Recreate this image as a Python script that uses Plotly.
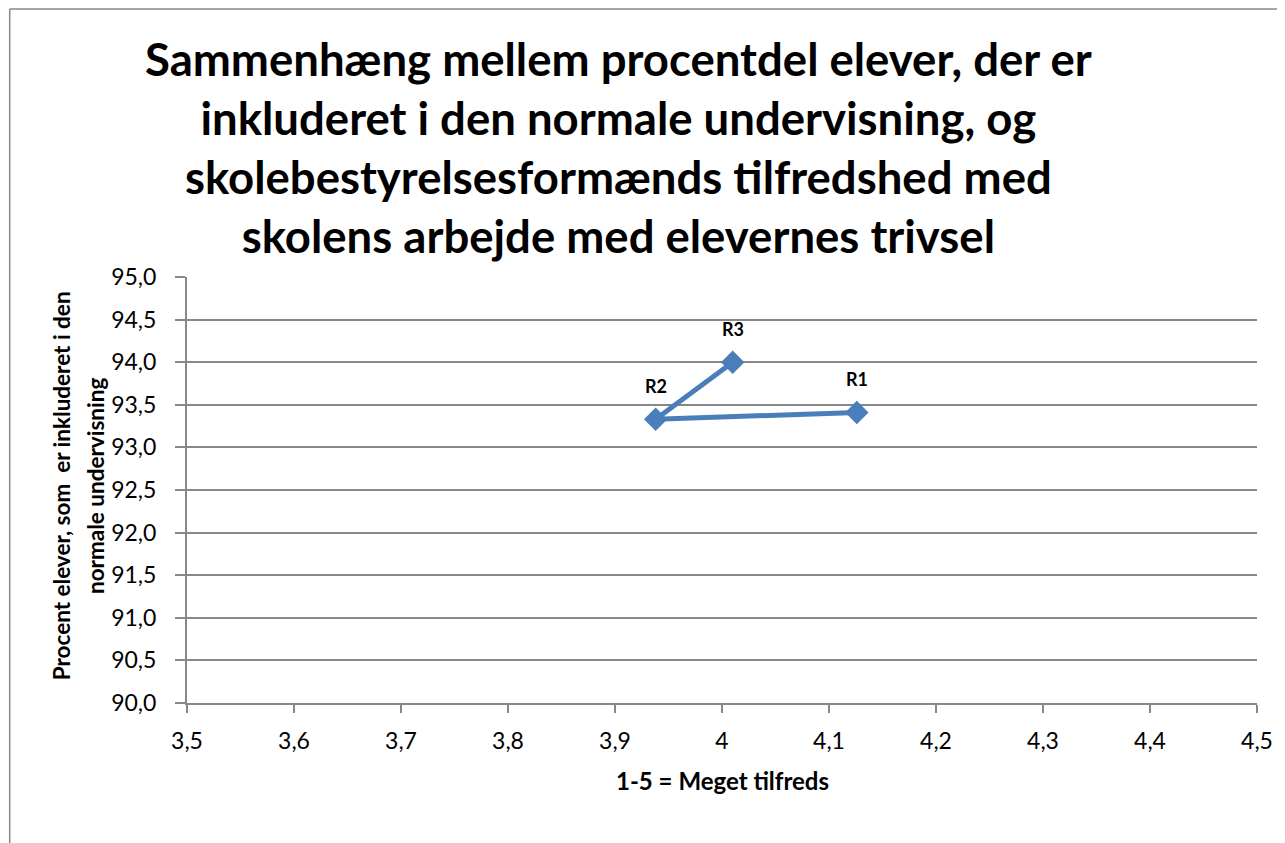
import plotly.graph_objects as go

# data
labels = ['R1', 'R2', 'R3']
tilfredshed = [4.126, 3.938, 4.010]
procent_inkluderet = [93.41, 93.33, 94.00]

title_lines = [
    'Sammenhæng mellem procentdel elever, der er',
    'inkluderet i den normale undervisning, og',
    'skolebestyrelsesformænds tilfredshed med',
    'skolens arbejde med elevernes trivsel',
]
x_title = '1-5 = Meget tilfreds'
y_title_lines = ['Procent elever, som&nbsp; er inkluderet i den', 'normale undervisning']

blue = '#4A7EBB'
grey = '#888888'
font_family = 'Lato'

fig = go.Figure()
fig.add_trace(go.Scatter(
    x=tilfredshed,
    y=procent_inkluderet,
    mode='lines+markers',
    line={'color': blue, 'width': 5},
    marker={'symbol': 'diamond', 'size': 18, 'color': blue},
    showlegend=False,
))

# data labels above the points
for lbl, xv, yv in zip(labels, tilfredshed, procent_inkluderet):
    fig.add_annotation(x=xv, y=yv, text=f'<b>{lbl}</b>', showarrow=False,
                       yshift=33, font={'size': 18, 'color': '#000000', 'family': font_family})

# title
fig.add_annotation(
    xref='paper', yref='paper', x=0.403, y=1.304,
    xanchor='center', yanchor='middle',
    text='<br>'.join(f'<b>{t}</b>' for t in title_lines),
    showarrow=False,
    font={'size': 45.5, 'color': '#000000', 'family': font_family},
)

# axis titles
fig.add_annotation(xref='paper', yref='paper', x=0.5, y=-0.183,
                   xanchor='center', yanchor='middle', showarrow=False,
                   text=f'<b>{x_title}</b>',
                   font={'size': 24, 'color': '#000000', 'family': font_family})
for xp, line in zip([-0.1173, -0.0857], y_title_lines):
    fig.add_annotation(xref='paper', yref='paper', x=xp, y=0.51,
                       xanchor='center', yanchor='middle', showarrow=False,
                       textangle=-90, text=f'<b>{line}</b>',
                       font={'size': 22.5, 'color': '#000000', 'family': font_family})

# outer chart border (left and top edges are the only ones in view)
fig.add_shape(type='line', xref='paper', yref='paper',
              x0=-0.1657, x1=-0.1657, y0=-0.6, y1=1.629,
              line={'color': grey, 'width': 1.5})
fig.add_shape(type='line', xref='paper', yref='paper',
              x0=-0.1657, x1=1.2, y0=1.629, y1=1.629,
              line={'color': grey, 'width': 1.5})

fig.update_layout(
    width=1277, height=835,
    margin=dict(l=179, r=24, t=269, b=140),
    plot_bgcolor='#FFFFFF',
    paper_bgcolor='#FFFFFF',
    separators=',.',
    font={'family': font_family, 'color': '#000000'},
    xaxis={
        'range': [3.5, 4.5],
        'dtick': 0.1,
        'tick0': 3.5,
        'showgrid': False,
        'zeroline': False,
        'showline': True,
        'linecolor': grey,
        'linewidth': 2,
        'ticks': 'outside',
        'ticklen': 8,
        'tickcolor': grey,
        'tickwidth': 2,
        'tickfont': {'size': 23},
        'ticklabelstandoff': 8,
    },
    yaxis={
        'range': [90, 95],
        'dtick': 0.5,
        'tickformat': '.1f',
        'showgrid': True,
        'gridcolor': grey,
        'gridwidth': 1.5,
        'zeroline': False,
        'showline': True,
        'linecolor': grey,
        'linewidth': 2,
        'ticks': 'outside',
        'ticklen': 10,
        'tickcolor': grey,
        'tickwidth': 2,
        'tickfont': {'size': 23},
        'ticklabelstandoff': 14,
    },
)

# the chart fills the window, so keep the page from scrolling
fig.write_html('out.html', post_script="document.body.style.overflow='hidden';")
